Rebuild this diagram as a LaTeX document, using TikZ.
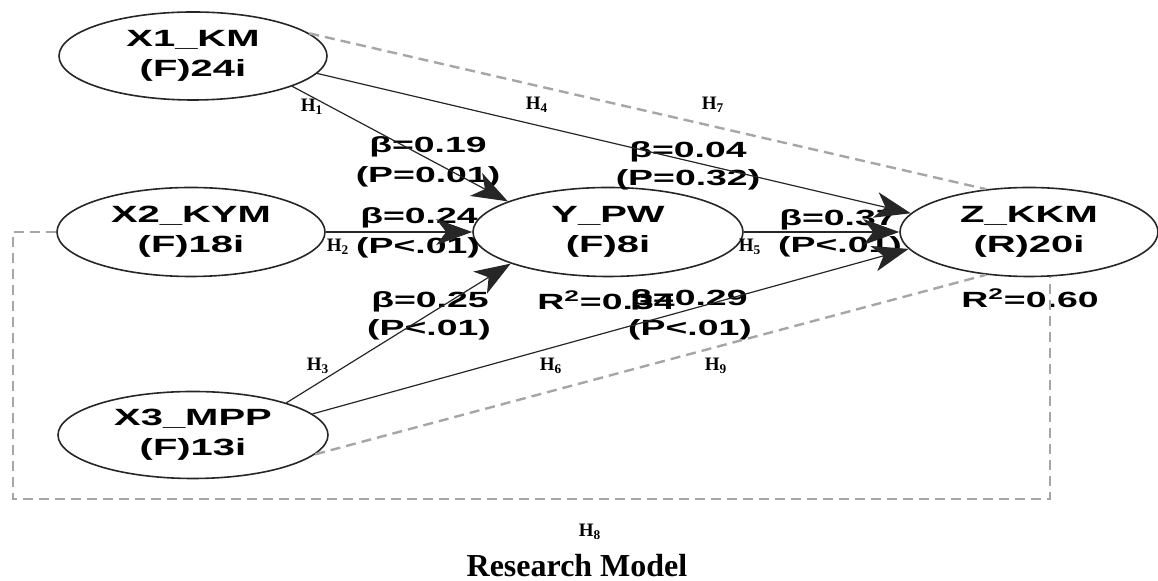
\documentclass[tikz,border=0pt]{standalone}
\usepackage{fontspec}
\setmainfont{Liberation Serif}
\newfontfamily\wfont[FakeStretch=1.7]{Liberation Sans}
\newfontfamily\capfont{Liberation Serif}
\usetikzlibrary{shapes.geometric,arrows.meta}
\tikzset{
  construct/.style={draw=black!85, line width=0.8pt, ellipse, inner sep=0pt,
    align=center, font=\wfont\bfseries\fontsize{11.75}{15}\selectfont},
  pathline/.style={draw=black!85, line width=0.6pt,
    -{Stealth[length=18pt,width=13pt,inset=5pt]}},
  corr/.style={draw=black!35, line width=1.2pt, dash pattern=on 5pt off 3pt},
  lbl/.style={inner sep=0pt, font=\wfont\bfseries\fontsize{11}{13}\selectfont},
  hyp/.style={inner sep=0pt, font=\bfseries\fontsize{9.5}{10}\selectfont},
}
\begin{document}
\begin{tikzpicture}[x=0.5pt,y=-0.5pt]
\useasboundingbox (0,0) rectangle (1158,581);
% constructs
\node[construct, minimum width=134pt, minimum height=44pt] (X1) at (193,56) {X1\_KM\\(F)24i};
\node[construct, minimum width=134pt, minimum height=44.5pt] (X2) at (191,232) {X2\_KYM\\(F)18i};
\node[construct, minimum width=135pt, minimum height=43.5pt] (X3) at (193,435) {X3\_MPP\\(F)13i};
\node[construct, minimum width=135pt, minimum height=44.5pt] (Y) at (608,232) {Y\_PW\\(F)8i};
\node[construct, minimum width=129pt, minimum height=44.5pt] (Z) at (1029,232) {Z\_KKM\\(R)20i};
% coefficient labels
\node[lbl] (l1a) at (428,147) {β=0.19};
\node[lbl] (l1b) at (428,177) {(P=0.01)};
\node[lbl] (l4a) at (688,152) {β=0.04};
\node[lbl] (l4b) at (688,180) {(P=0.32)};
\node[lbl] (l2a) at (419,218) {β=0.24};
\node[lbl] (l2b) at (418,248) {(P<.01)};
\node[lbl] (l3a) at (430,302) {β=0.25};
\node[lbl] (l3b) at (429,330) {(P<.01)};
\node[lbl, anchor=west] (ry) at (537,300) {R\textsuperscript{2}=0.34};
\node[lbl, anchor=east] (l6a) at (748,300) {β=0.29};
\node[lbl] (l6b) at (690,330) {(P<.01)};
\node[lbl] (l5a) at (838,220) {β=0.37};
\node[lbl] (l5b) at (840,247) {(P<.01)};
\node[lbl] (rz) at (1030,298) {R\textsuperscript{2}=0.60};
% hypothesis labels
\node[hyp] (h1) at (312,107) {H\textsubscript{1}};
\node[hyp] (h2) at (338,247) {H\textsubscript{2}};
\node[hyp] (h3) at (318,366) {H\textsubscript{3}};
\node[hyp] (h4) at (537,105) {H\textsubscript{4}};
\node[hyp] (h5) at (750,247) {H\textsubscript{5}};
\node[hyp] (h6) at (551,366) {H\textsubscript{6}};
\node[hyp] (h7) at (713,105) {H\textsubscript{7}};
\node[hyp] (h8) at (590,532) {H\textsubscript{8}};
\node[hyp] (h9) at (716,366) {H\textsubscript{9}};
% dashed correlations
\coordinate (b1) at (13,499);
\coordinate (b2) at (1050,499);
\draw[corr] (X1.11) -- (Z.135);
\draw[corr] (X3.-9) -- (Z.225);
\draw[corr] (X2.west) -| (b1) -- (b2) -- (b2 |- Z.south);
% structural paths
\draw[pathline] (X1.-17) -- (Y.163);
\draw[pathline] (X1.-8) -- (Z.171);
\draw[pathline] (X2.east) -- (Y.west);
\draw[pathline] (X3.19) -- (Y.198);
\draw[pathline] (X3.10) -- (Z.188.6);
\draw[pathline] (Y.east) -- (Z.west);
% caption
\node[inner sep=0pt, anchor=base, font=\capfont\bfseries\fontsize{16}{18}\selectfont] (cap) at (577,577) {Research Model};
\end{tikzpicture}
\end{document}
